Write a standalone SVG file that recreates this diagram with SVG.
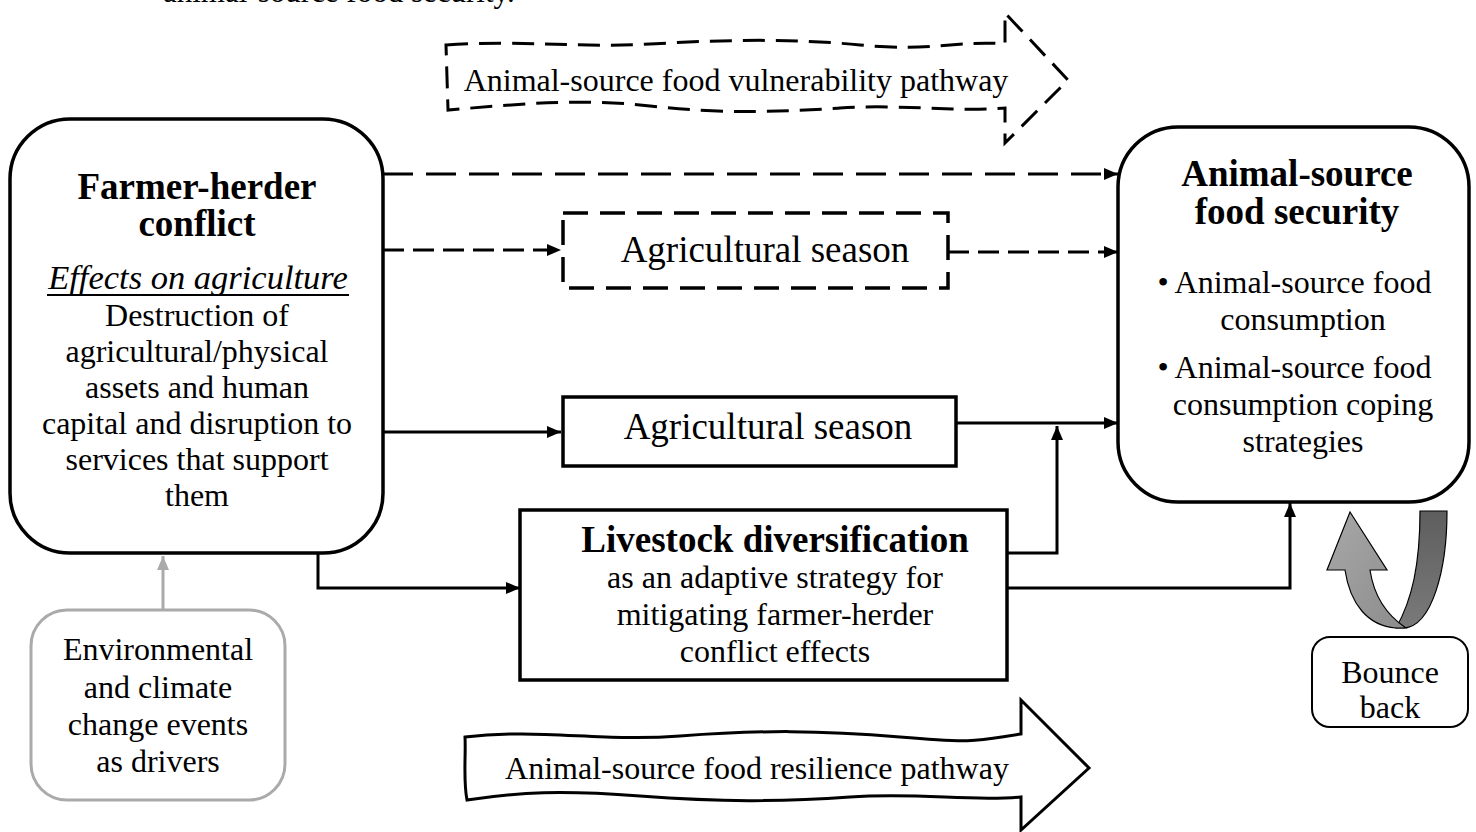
<svg xmlns="http://www.w3.org/2000/svg" width="1476" height="832" viewBox="0 0 1476 832">
<defs>
<style>
text{font-family:"Liberation Serif","Times New Roman",serif;fill:#000}
.t32{font-size:32px}
.t37{font-size:37px}
.b37{font-size:37px;font-weight:bold}
.box{fill:#fff;stroke:#000;stroke-width:3.5}
.ln{fill:none;stroke:#000;stroke-width:3}
.dash1{stroke-dasharray:30 13}
.dash2{stroke-dasharray:21 9}
</style>
<marker id="ah" viewBox="0 0 14 12" refX="14" refY="6" markerWidth="14" markerHeight="12" markerUnits="userSpaceOnUse" orient="auto">
<path d="M0,0 L14,6 L0,12 Z" fill="#000"/>
</marker>
<marker id="ahg" viewBox="0 0 14 12" refX="14" refY="6" markerWidth="14" markerHeight="12" markerUnits="userSpaceOnUse" orient="auto">
<path d="M0,0 L14,6 L0,12 Z" fill="#aaa"/>
</marker>
<linearGradient id="lg" x1="0" y1="0" x2="1" y2="1">
<stop offset="0" stop-color="#a8a8a8"/>
<stop offset="1" stop-color="#8c8c8c"/>
</linearGradient>
<linearGradient id="dg" x1="0" y1="0" x2="0" y2="1">
<stop offset="0" stop-color="#5e5e5e"/>
<stop offset="1" stop-color="#7a7a7a"/>
</linearGradient>
</defs>
<rect width="1476" height="832" fill="#fff"/>

<text x="163" y="1.5" style="font-size:31px">animal-source food security.</text>

<g id="vulnerability-pathway">
<path d="M446,45 C520,40 580,48 650,44 S790,38 860,45 S960,40 1005,44 L1005,13 L1068,80 L1005,143 L1005,108 C950,112 900,104 840,108 S720,114 650,106 S520,104 448,110 Z" fill="none" stroke="#000" stroke-width="3" stroke-dasharray="22 11"/>
<text class="t32" x="736" y="91" text-anchor="middle">Animal-source food vulnerability pathway</text>
</g>

<g id="resilience-pathway">
<path d="M465,737 C540,728 600,742 680,736 S820,730 900,737 S980,740 1021,734 L1021,700 L1089,768 L1021,830 L1021,797 C970,802 920,792 850,797 S720,802 640,796 S520,792 467,800 C463,780 466,755 465,737 Z" fill="#fff" stroke="#000" stroke-width="3"/>
<text class="t32" x="757" y="779" text-anchor="middle">Animal-source food resilience pathway</text>
</g>

<g id="connectors">
<path class="ln dash1" d="M383,174 H1118" marker-end="url(#ah)"/>
<path class="ln dash2" d="M383,250 H561" marker-end="url(#ah)"/>
<path class="ln dash2" d="M948,252 H1118" marker-end="url(#ah)"/>
<path class="ln" d="M383,432 H561" marker-end="url(#ah)"/>
<path class="ln" d="M956,423 H1118" marker-end="url(#ah)"/>
<path class="ln" d="M318,553 V588 H520" marker-end="url(#ah)"/>
<path class="ln" d="M1007,553 H1057 V426" marker-end="url(#ah)"/>
<path class="ln" d="M1007,588 H1290 V503" marker-end="url(#ah)"/>
<path d="M163,610 V556" fill="none" stroke="#aaa" stroke-width="3" marker-end="url(#ahg)"/>
</g>

<g id="farmer-herder-conflict">
<rect class="box" x="10" y="119" width="373" height="434" rx="60"/>
<text class="b37" x="197" y="199" text-anchor="middle">Farmer-herder</text>
<text class="b37" x="197" y="236" text-anchor="middle">conflict</text>
<text x="198" y="289" text-anchor="middle" style="font-size:34.5px;font-style:italic">Effects on agriculture</text>
<line x1="47" y1="295" x2="349" y2="295" stroke="#000" stroke-width="2"/>
<text class="t32" x="197" y="326" text-anchor="middle">Destruction of</text>
<text class="t32" x="197" y="362" text-anchor="middle">agricultural/physical</text>
<text class="t32" x="197" y="398" text-anchor="middle">assets and human</text>
<text class="t32" x="197" y="434" text-anchor="middle">capital and disruption to</text>
<text class="t32" x="197" y="470" text-anchor="middle">services that support</text>
<text class="t32" x="197" y="506" text-anchor="middle">them</text>
</g>

<g id="agricultural-season-dashed">
<rect x="563" y="213" width="385" height="75" fill="none" stroke="#000" stroke-width="3.5" stroke-dasharray="25 12"/>
<text class="t37" x="765" y="262" text-anchor="middle">Agricultural season</text>
</g>

<g id="agricultural-season">
<rect class="box" x="563" y="397" width="393" height="69"/>
<text class="t37" x="768" y="439" text-anchor="middle">Agricultural season</text>
</g>

<g id="livestock-diversification">
<rect class="box" x="520" y="510" width="487" height="170"/>
<text class="b37" x="775" y="552" text-anchor="middle">Livestock diversification</text>
<text class="t32" x="775" y="588" text-anchor="middle">as an adaptive strategy for</text>
<text class="t32" x="775" y="625" text-anchor="middle">mitigating farmer-herder</text>
<text class="t32" x="775" y="662" text-anchor="middle">conflict effects</text>
</g>

<g id="animal-source-food-security">
<rect class="box" x="1118" y="127" width="351" height="375" rx="60"/>
<text class="b37" x="1297" y="186" text-anchor="middle">Animal-source</text>
<text class="b37" x="1297" y="224" text-anchor="middle">food security</text>
<text class="t32" x="1163" y="293" text-anchor="middle">•</text>
<text class="t32" x="1303" y="293" text-anchor="middle">Animal-source food</text>
<text class="t32" x="1303" y="330" text-anchor="middle">consumption</text>
<text class="t32" x="1163" y="378" text-anchor="middle">•</text>
<text class="t32" x="1303" y="378" text-anchor="middle">Animal-source food</text>
<text class="t32" x="1303" y="415" text-anchor="middle">consumption coping</text>
<text class="t32" x="1303" y="452" text-anchor="middle">strategies</text>
</g>

<g id="environmental-drivers">
<rect x="31" y="610" width="254" height="190" rx="36" fill="#fff" stroke="#aaa" stroke-width="3"/>
<text class="t32" x="158" y="660" text-anchor="middle">Environmental</text>
<text class="t32" x="158" y="698" text-anchor="middle">and climate</text>
<text class="t32" x="158" y="735" text-anchor="middle">change events</text>
<text class="t32" x="158" y="772" text-anchor="middle">as drivers</text>
</g>

<g id="bounce-arrow">
<path d="M1420,511 L1447,511 C1447,570 1432,626 1404,628 L1396,628 C1412,600 1420,565 1420,511 Z" fill="url(#dg)" stroke="#000" stroke-width="1.2"/>
<path d="M1345,570 L1327,570 L1350,512 L1387,570 L1370,570 C1374,597 1388,616 1406,628 L1396,628 C1368,626 1350,604 1345,570 Z" fill="url(#lg)" stroke="#000" stroke-width="1.2"/>
</g>

<g id="bounce-back">
<rect x="1312" y="637" width="156" height="90" rx="18" fill="#fff" stroke="#000" stroke-width="2"/>
<text class="t32" x="1390" y="683" text-anchor="middle">Bounce</text>
<text class="t32" x="1390" y="718" text-anchor="middle">back</text>
</g>
</svg>
